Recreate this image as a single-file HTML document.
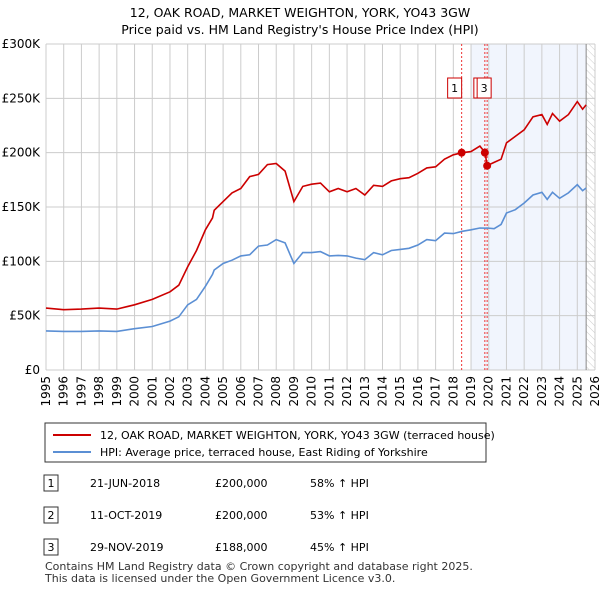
<!DOCTYPE html>
<html><head><meta charset="utf-8"><style>
body{margin:0;background:#fff;font-family:"Liberation Sans","DejaVu Sans",sans-serif;}
svg text{font-family:"DejaVu Sans","Liberation Sans",sans-serif;}
</style></head><body>
<svg id="c" width="600" height="590" xmlns="http://www.w3.org/2000/svg">
<defs><pattern id="hatch" width="5" height="5" patternUnits="userSpaceOnUse" patternTransform="rotate(-45)"><line x1="0" y1="0" x2="0" y2="5" stroke="#ccc" stroke-width="1"/></pattern></defs>
<text x="300" y="17" text-anchor="middle" font-size="12.5">12, OAK ROAD, MARKET WEIGHTON, YORK, YO43 3GW</text>
<text x="300" y="34" text-anchor="middle" font-size="12.5">Price paid vs. HM Land Registry's House Price Index (HPI)</text>
<g id="plot"></g>
<g>
<rect x="45" y="423" width="441" height="39" fill="#fff" stroke="#333"/>
<line x1="53" y1="435" x2="91" y2="435" stroke="#cc0000" stroke-width="2"/>
<text x="100" y="439" font-size="11">12, OAK ROAD, MARKET WEIGHTON, YORK, YO43 3GW (terraced house)</text>
<line x1="53" y1="452" x2="91" y2="452" stroke="#5b8fd4" stroke-width="2"/>
<text x="100" y="456" font-size="11">HPI: Average price, terraced house, East Riding of Yorkshire</text>
</g>
<g font-size="11">
<rect x="44" y="475" width="14" height="16" fill="#fff" stroke="#333"/><text x="51" y="487" text-anchor="middle">1</text>
<text x="90" y="487">21-JUN-2018</text><text x="215" y="487">£200,000</text><text x="310" y="487">58% ↑ HPI</text>
<rect x="44" y="507" width="14" height="16" fill="#fff" stroke="#333"/><text x="51" y="519" text-anchor="middle">2</text>
<text x="90" y="519">11-OCT-2019</text><text x="215" y="519">£200,000</text><text x="310" y="519">53% ↑ HPI</text>
<rect x="44" y="539" width="14" height="16" fill="#fff" stroke="#333"/><text x="51" y="551" text-anchor="middle">3</text>
<text x="90" y="551">29-NOV-2019</text><text x="215" y="551">£188,000</text><text x="310" y="551">45% ↑ HPI</text>
</g>
<text x="45" y="570" font-size="11" fill="#333">Contains HM Land Registry data © Crown copyright and database right 2025.</text>
<text x="45" y="582" font-size="11" fill="#333">This data is licensed under the Open Government Licence v3.0.</text>
</svg>
<script>
const years=[1995,1996,1997,1998,1999,2000,2001,2002,2002.5,2003,2003.5,2004,2004.4,2004.5,2005,2005.5,2006,2006.5,2007,2007.5,2008,2008.5,2009,2009.5,2010,2010.5,2011,2011.5,2012,2012.5,2013,2013.5,2014,2014.5,2015,2015.5,2016,2016.5,2017,2017.5,2018,2018.5,2019,2019.5,2019.8,2019.9,2020.3,2020.7,2021,2021.5,2022,2022.5,2023,2023.3,2023.6,2024,2024.5,2025,2025.3,2025.5];
const redVals=[57,55.5,56,57,56,60,65,72,78,95,110,129,140,147,155,163,167,178,180,189,190,183,155,169,171,172,164,167,164,167,161,170,169,174,176,177,181,186,187,194,198,200,201,206,200,188,191,194,209,215,221,233,235,226,236,229,235,247,240,244];
const blueVals=[36,35.5,35.5,36,35.5,38,40,45,49,60,65,77,88,92,98,101,105,106,114,115,120,117,98,108,108,109,105,105.5,105,103,101.5,108,106,110,111,112,115,120,119,126,125.5,127.6,129,130.7,130.5,130.7,130,134,144.5,147.5,153.7,161,163.5,157,163.5,158,163,170.5,165,167.5];
const yTicks=[0,50,100,150,200,250,300];
const yTickLabels=["£0","£50K","£100K","£150K","£200K","£250K","£300K"];
const xTicks=[1995,1996,1997,1998,1999,2000,2001,2002,2003,2004,2005,2006,2007,2008,2009,2010,2011,2012,2013,2014,2015,2016,2017,2018,2019,2020,2021,2022,2023,2024,2025,2026];
const saleYears=[2018.47,2019.78,2019.91];
const saleVals=[200,200,188];
const saleLabels=["1","2","3"];
const L=46,R=595,T=44,B=370;
const X=y=>L+(y-1995)*(R-L)/31, Y=v=>B-v*(B-T)/300;
const g=document.getElementById('plot'),NS="http://www.w3.org/2000/svg";
function mk(t,a){const e=document.createElementNS(NS,t);for(const k in a)e.setAttribute(k,a[k]);g.appendChild(e);return e;}
let e;
e=mk('rect',{x:X(2019),y:T,width:X(2025.5)-X(2019),height:B-T,fill:'#eef3fc',opacity:0.8});


e=mk('rect',{x:X(2025.5),y:T,width:R-X(2025.5),height:B-T,fill:'url(#hatch)'});


xTicks.forEach(t=>{e=mk('line',{x1:X(t),x2:X(t),y1:T,y2:B,stroke:'#ccc'});


e=mk('text',{x:0,y:0,'font-size':12,'text-anchor':'end',transform:`translate(${X(t)+4},${B+6}) rotate(-90)`});e.textContent=t;

});
yTicks.forEach((t,i)=>{e=mk('line',{x1:L,x2:R,y1:Y(t),y2:Y(t),stroke:'#ccc'});


e=mk('text',{x:L-6,y:Y(t)+4,'font-size':12,'text-anchor':'end'});e.textContent=yTickLabels[i];

});
e=mk('line',{x1:X(2025.5),x2:X(2025.5),y1:T,y2:B,stroke:'#888'});


saleYears.forEach((s,i)=>{e=mk('line',{x1:X(s),x2:X(s),y1:T,y2:B,stroke:'#e33','stroke-dasharray':'2,2','stroke-width':1});

});
const lp=a=>a.map((v,i)=>`${X(years[i]).toFixed(1)},${Y(v).toFixed(1)}`).join(' ');
e=mk('polyline',{points:lp(blueVals),fill:'none',stroke:'#5b8fd4','stroke-width':1.6});


e=mk('polyline',{points:lp(redVals),fill:'none',stroke:'#cc0000','stroke-width':1.6});


saleYears.forEach((s,i)=>{e=mk('circle',{cx:X(s),cy:Y(saleVals[i]),r:4,fill:'#cc0000'});

});
[[0,-14],[1,-11],[2,-10]].forEach(([i,dx])=>{const bx=X(saleYears[i])+dx;
e=mk('rect',{x:bx,y:78,width:14,height:20,fill:'#fff',stroke:'#cc0000'});


e=mk('text',{x:bx+7,y:92,'font-size':11,'text-anchor':'middle'});e.textContent=saleLabels[i];

});
</script>
</body></html>
